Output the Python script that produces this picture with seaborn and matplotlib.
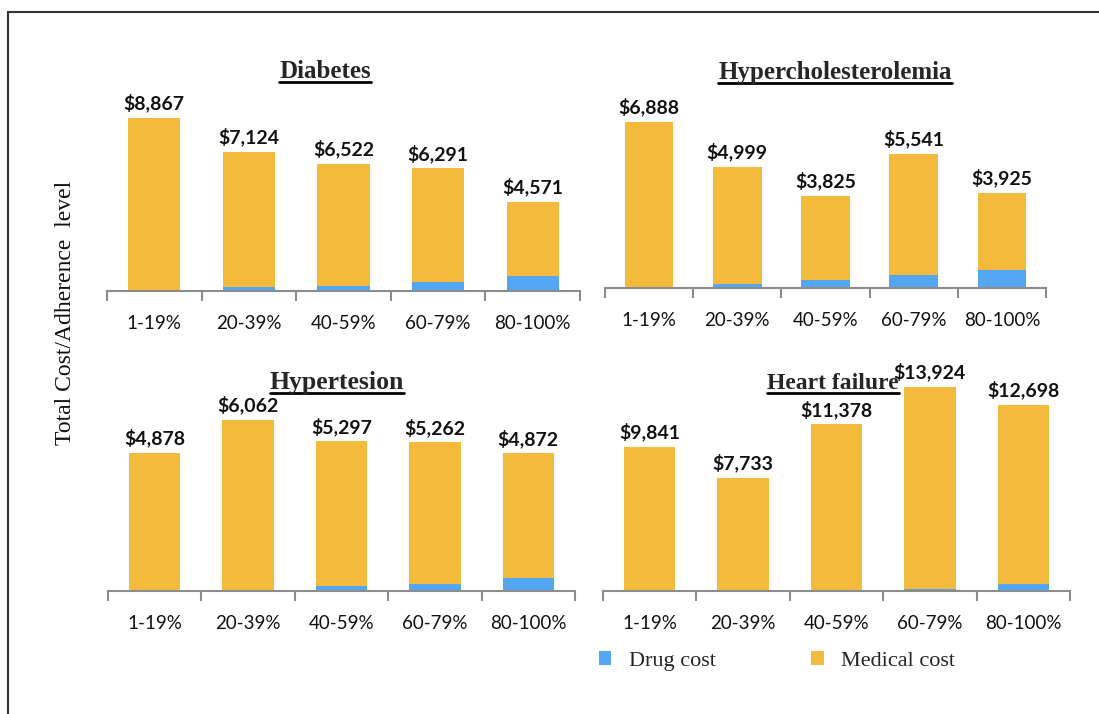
import seaborn as sns
import matplotlib.pyplot as plt
import matplotlib.lines as mlines
import numpy as np
import pandas as pd

# adherence groups
categories = ['1-19%', '20-39%', '40-59%', '60-79%', '80-100%']

# total cost per adherence level (value labels)
diabetes_total = [8867, 7124, 6522, 6291, 4571]
hyperchol_total = [6888, 4999, 3825, 5541, 3925]
hypertension_total = [4878, 6062, 5297, 5262, 4872]
heartfailure_total = [9841, 7733, 11378, 13924, 12698]

# drug cost part
diabetes_drug = [60, 180, 280, 450, 760]
hyperchol_drug = [40, 165, 320, 550, 760]
hypertension_drug = [15, 40, 165, 255, 470]
heartfailure_drug = [30, 60, 70, 140, 460]

titles = ['Diabetes', 'Hypercholesterolemia', 'Hypertesion', 'Heart failure']

sns.set_style('white')
plt.rcParams['font.family'] = ['Lato', 'DejaVu Sans']

YELLOW = '#F4BA3B'
BLUE = '#55A6F2'
W, H = 1099, 714

fig = plt.figure(figsize=(W / 100, H / 100), dpi=100)

def px_axes(x0, x1, top, base):
    return fig.add_axes([x0 / W, 1 - base / H, (x1 - x0) / W, (base - top) / H])

# axes boxes in pixels: x0, x1, top, baseline ; and y max per panel
boxes = [(107, 580, 100, 291), (605, 1046, 100, 288), (108, 575, 400, 591), (603, 1070, 370, 591)]
ymax = [9800, 7780, 6760, 15090]
totals = [diabetes_total, hyperchol_total, hypertension_total, heartfailure_total]
drugs = [diabetes_drug, hyperchol_drug, hypertension_drug, heartfailure_drug]
title_pos = [(325, 78), (835, 79), (337, 389), (833, 389)]
title_size = [18, 18, 18.5, 17]

axes = []
for i in range(4):
    ax = px_axes(*boxes[i])
    df = pd.DataFrame({'level': categories, 'total': totals[i], 'drug': drugs[i]})
    sns.barplot(data=df, x='level', y='total', color=YELLOW, saturation=1, width=0.55,
                linewidth=0, ax=ax)
    sns.barplot(data=df, x='level', y='drug', color=BLUE, saturation=1, width=0.55,
                linewidth=0, ax=ax)
    ax.bar_label(ax.containers[0], labels=[f'${v:,}' for v in df['total']], padding=4,
                 fontsize=14, fontweight='bold', color='#111111', clip_on=False)
    ax.set_ylim(0, ymax[i])
    ax.set_xlim(-0.5, 4.5)
    ax.set_xlabel('')
    ax.set_ylabel('')
    ax.set_yticks([])
    for s in ['top', 'left', 'right']:
        ax.spines[s].set_visible(False)
    ax.spines['bottom'].set_color('#8c8c8c')
    ax.spines['bottom'].set_linewidth(1.5)
    ax.set_xticks(np.arange(-0.5, 5, 1), minor=True)
    ax.tick_params(axis='x', which='minor', bottom=True, length=7, width=1.5,
                   color='#8c8c8c', direction='out')
    ax.tick_params(axis='x', which='major', bottom=True, length=0, pad=17,
                   labelsize=13.5, labelcolor='#111111')
    axes.append(ax)

# panel titles (bold, underlined, serif)
title_texts = []
for t, (x, y), fs in zip(titles, title_pos, title_size):
    tt = fig.text(x / W, 1 - y / H, t, ha='center', va='baseline', fontsize=fs,
                  fontweight='bold', family='Liberation Serif')
    title_texts.append(tt)

fig.text(66 / W, 1 - 313 / H, 'Total Cost/Adherence  level', rotation=90, ha='center', va='center',
         fontsize=17, family='Liberation Serif', color='#111111')

# legend
leg = fig.legend([axes[0].containers[1], axes[0].containers[0]], ['Drug cost', 'Medical cost'],
                 loc='center left', bbox_to_anchor=(599 / W, 1 - 661 / H), ncol=2, frameon=False,
                 borderpad=0, borderaxespad=0,
                 handlelength=0.55, handleheight=0.55, handletextpad=0.8, columnspacing=4.3,
                 prop={'family': 'Liberation Serif', 'size': 16})

# underline the titles
fig.canvas.draw()
r = fig.canvas.get_renderer()
for tt in title_texts:
    bb = tt.get_window_extent(r)
    yline = (bb.y0 + 1) / H
    fig.add_artist(mlines.Line2D([bb.x0 / W, bb.x1 / W], [yline, yline], color='black', lw=2))

# frame lines on the left and top edges
fig.add_artist(mlines.Line2D([8 / W, 1], [1 - 12 / H, 1 - 12 / H], color='#333333', lw=1.5))
fig.add_artist(mlines.Line2D([8 / W, 8 / W], [0, 1 - 12 / H], color='#333333', lw=1.5))

fig.savefig('out.png', dpi=100)
